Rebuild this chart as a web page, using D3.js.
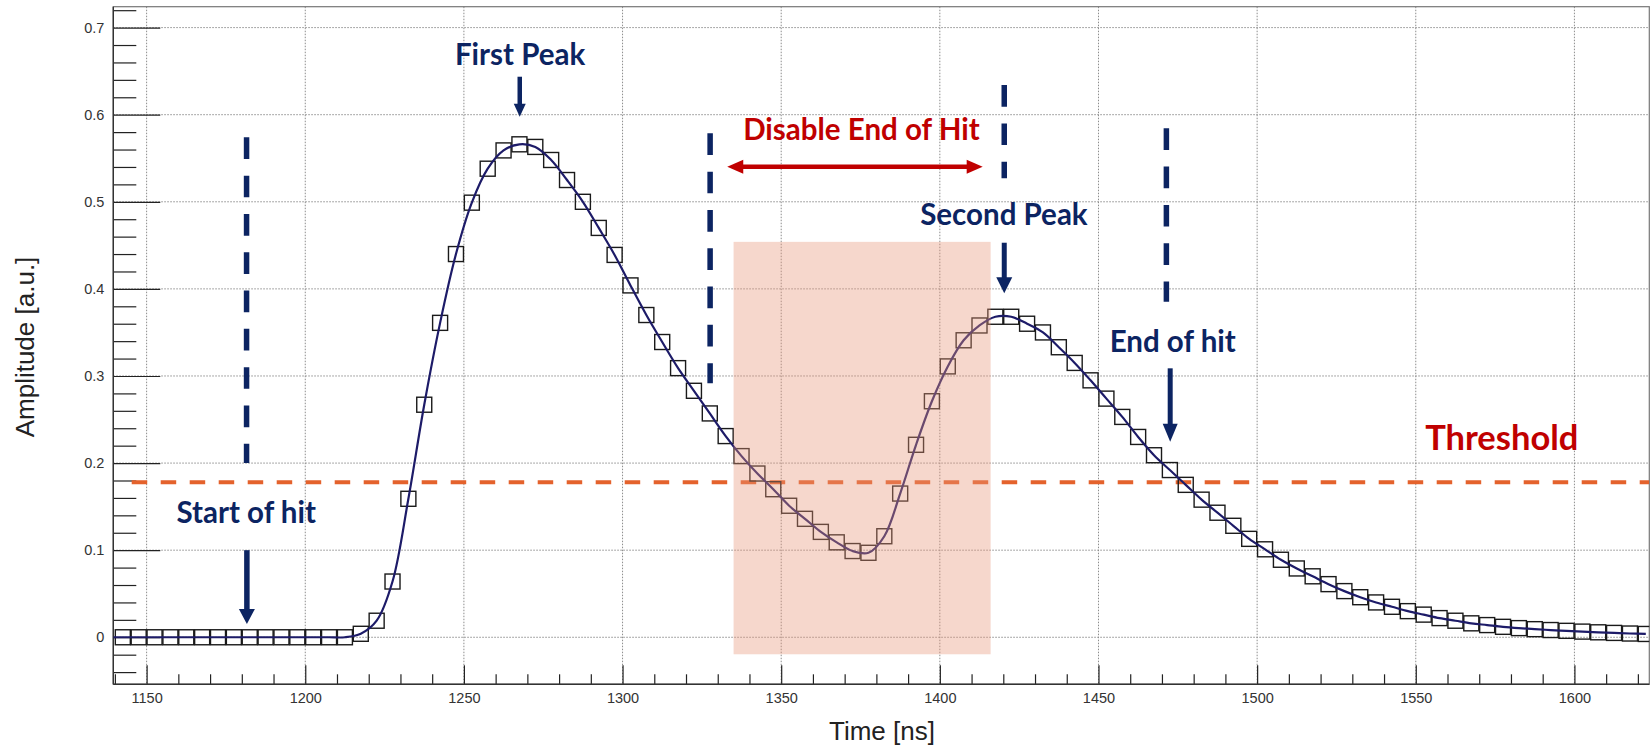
<!DOCTYPE html>
<html>
<head>
<meta charset="utf-8">
<script src="https://cdn.jsdelivr.net/npm/d3@7/dist/d3.min.js"></script>
<style>
  body { margin: 0; background: #fff; }
  svg text { font-family: "Liberation Sans", Arial, Helvetica, sans-serif; }
  .note { font-family: Lato, "Open Sans", sans-serif; font-weight: 700; }
</style>
</head>
<body>
<div id="chart"></div>
<script>
// sample times [ns]
const times = [
  1142.5, 1147.5, 1152.5, 1157.5, 1162.5, 1167.5, 1172.5, 1177.5, 1182.5, 1187.5,
  1192.5, 1197.5, 1202.5, 1207.5, 1212.5, 1217.5, 1222.5, 1227.5, 1232.5, 1237.5,
  1242.5, 1247.5, 1252.5, 1257.5, 1262.5, 1267.5, 1272.5, 1277.5, 1282.5, 1287.5,
  1292.5, 1297.5, 1302.5, 1307.5, 1312.5, 1317.5, 1322.5, 1327.5, 1332.5, 1337.5,
  1342.5, 1347.5, 1352.5, 1357.5, 1362.5, 1367.5, 1372.5, 1377.5, 1382.5, 1387.5,
  1392.5, 1397.5, 1402.5, 1407.5, 1412.5, 1417.5, 1422.5, 1427.5, 1432.5, 1437.5,
  1442.5, 1447.5, 1452.5, 1457.5, 1462.5, 1467.5, 1472.5, 1477.5, 1482.5, 1487.5,
  1492.5, 1497.5, 1502.5, 1507.5, 1512.5, 1517.5, 1522.5, 1527.5, 1532.5, 1537.5,
  1542.5, 1547.5, 1552.5, 1557.5, 1562.5, 1567.5, 1572.5, 1577.5, 1582.5, 1587.5,
  1592.5, 1597.5, 1602.5, 1607.5, 1612.5, 1617.5, 1622.5
];

// amplitude [a.u.] for each sample
const amplitudes = [
  0, 0, 0, 0, 0, 0, 0, 0, 0, 0,
  0, 0, 0, 0, 0, 0.004, 0.019, 0.064, 0.159, 0.267,
  0.361, 0.440, 0.499, 0.538, 0.559, 0.566, 0.563, 0.548, 0.525, 0.500,
  0.470, 0.439, 0.404, 0.370, 0.339, 0.309, 0.283, 0.257, 0.231, 0.208,
  0.188, 0.170, 0.151, 0.136, 0.121, 0.109, 0.099, 0.097, 0.116, 0.165,
  0.221, 0.271, 0.311, 0.341, 0.358, 0.368, 0.368, 0.360, 0.350, 0.333,
  0.315, 0.295, 0.274, 0.253, 0.230, 0.209, 0.192, 0.175, 0.158, 0.143,
  0.128, 0.113, 0.101, 0.089, 0.079, 0.070, 0.061, 0.053, 0.046, 0.040,
  0.035, 0.030, 0.026, 0.022, 0.019, 0.016, 0.014, 0.012, 0.0105, 0.0093,
  0.0083, 0.0074, 0.0065, 0.0057, 0.0050, 0.0043, 0.0038
];

const xTicks = [1150, 1200, 1250, 1300, 1350, 1400, 1450, 1500, 1550, 1600];
const xTickLabels = ["1150", "1200", "1250", "1300", "1350", "1400", "1450", "1500", "1550", "1600"];
const yTicks = [0, 0.1, 0.2, 0.3, 0.4, 0.5, 0.6, 0.7];
const yTickLabels = ["0", "0.1", "0.2", "0.3", "0.4", "0.5", "0.6", "0.7"];

const threshold = 0.178;

const svgWidth = 1650, svgHeight = 746;
const frame = {left: 113.3, right: 1649.3, top: 6.7, bottom: 684.3};

const navy = "#0c2462", red = "#c00000", orange = "#e4622c";

const svg = d3.select('#chart')
    .append('svg')
    .attr('width', svgWidth)
    .attr('height', svgHeight)
    .style('display', 'block');

svg.append('rect').attr('width', svgWidth).attr('height', svgHeight).attr('fill', '#fff');

const x = d3.scaleLinear().domain([1139.5, 1623.6]).range([frame.left, frame.right]);
const y = d3.scaleLinear().domain([-0.054, 0.724]).range([frame.bottom, frame.top]);

svg.append('defs').append('clipPath').attr('id', 'frameClip')
    .append('rect')
    .attr('x', frame.left).attr('y', frame.top)
    .attr('width', frame.right - frame.left)
    .attr('height', frame.bottom - frame.top);

// dotted grid
const grid = svg.append('g').attr('stroke', '#8c8c8c').attr('stroke-width', 1)
    .attr('stroke-dasharray', '1.5,1.5');
grid.selectAll('.gx').data(xTicks).enter().append('line')
    .attr('x1', d => x(d)).attr('x2', d => x(d))
    .attr('y1', frame.top).attr('y2', frame.bottom);
grid.selectAll('.gy').data(yTicks).enter().append('line')
    .attr('x1', frame.left).attr('x2', frame.right)
    .attr('y1', d => y(d)).attr('y2', d => y(d));

// frame
svg.append('rect')
    .attr('x', frame.left).attr('y', frame.top)
    .attr('width', frame.right - frame.left)
    .attr('height', frame.bottom - frame.top)
    .attr('fill', 'none').attr('stroke', '#777').attr('stroke-width', 1.2);

// axes
const xMinor = d3.range(1140, 1621, 10).filter(v => v % 50 !== 0);
const yMinor = d3.range(-4, 73, 2).map(v => v / 100).filter(v => Math.abs(v * 10 - Math.round(v * 10)) > 1e-6);

svg.append('g')
    .attr('transform', `translate(0, ${frame.bottom})`)
    .call(d3.axisBottom(x).tickValues(xTicks).tickSize(-19).tickPadding(8)
        .tickFormat((d, i) => xTickLabels[i]));
svg.append('g')
    .attr('transform', `translate(0, ${frame.bottom})`)
    .call(d3.axisBottom(x).tickValues(xMinor).tickSize(-10).tickFormat(''));

svg.append('g')
    .attr('transform', `translate(${frame.left}, 0)`)
    .call(d3.axisLeft(y).tickValues(yTicks).tickSize(-47).tickPadding(9)
        .tickFormat((d, i) => yTickLabels[i]));
svg.append('g')
    .attr('transform', `translate(${frame.left}, 0)`)
    .call(d3.axisLeft(y).tickValues(yMinor).tickSize(-23).tickFormat(''));

svg.selectAll('.domain').remove();
svg.selectAll('.tick line').attr('stroke', '#222').attr('stroke-width', 1.2);
svg.selectAll('.tick text').attr('fill', '#333').style('font-size', '14.5px');

svg.append('line')
    .attr('x1', frame.left).attr('x2', frame.right)
    .attr('y1', frame.bottom).attr('y2', frame.bottom)
    .attr('stroke', '#333').attr('stroke-width', 1.4);
svg.append('line')
    .attr('x1', frame.left).attr('x2', frame.left)
    .attr('y1', frame.top).attr('y2', frame.bottom)
    .attr('stroke', '#333').attr('stroke-width', 1.4);

// axis titles
svg.append('text')
    .attr('x', 882).attr('y', 740)
    .attr('text-anchor', 'middle')
    .style('font-size', '26px').attr('fill', '#222')
    .text('Time [ns]');
svg.append('text')
    .attr('transform', 'translate(33.5, 347) rotate(-90)')
    .attr('text-anchor', 'middle')
    .style('font-size', '26px').attr('fill', '#222')
    .text('Amplitude [a.u.]');

// threshold
const plot = svg.append('g').attr('clip-path', 'url(#frameClip)');
plot.append('line')
    .attr('x1', x(1145.3)).attr('x2', frame.right)
    .attr('y1', y(threshold)).attr('y2', y(threshold))
    .attr('stroke', orange).attr('stroke-width', 4.2)
    .attr('stroke-dasharray', '15.5,13.5');

// data
const data = times.map((t, i) => ({t: t, v: amplitudes[i]}));
const line = d3.line()
    .x(d => x(d.t))
    .y(d => y(d.v))
    .curve(d3.curveCatmullRom.alpha(0.5));

plot.selectAll('.pt').data(data).enter().append('rect')
    .attr('x', d => x(d.t) - 7.5)
    .attr('y', d => y(d.v) - 7.5)
    .attr('width', 15).attr('height', 15)
    .attr('fill', 'none').attr('stroke', '#1a1a1a').attr('stroke-width', 1.4);

plot.append('path')
    .datum([{t: x.domain()[0], v: amplitudes[0]}].concat(data))
    .attr('fill', 'none')
    .attr('stroke', '#1d1b68')
    .attr('stroke-width', 2.2)
    .attr('d', line);

// shaded region
plot.append('rect')
    .attr('x', x(1335)).attr('y', y(0.454))
    .attr('width', x(1416) - x(1335))
    .attr('height', y(-0.0195) - y(0.454))
    .attr('fill', '#e8967a').attr('opacity', 0.38);

// annotations
const notes = svg.append('g');

function dashedLine(t, a0, a1) {
    notes.append('line')
        .attr('x1', x(t)).attr('x2', x(t))
        .attr('y1', y(a0)).attr('y2', y(a1))
        .attr('stroke', navy).attr('stroke-width', 5.5)
        .attr('stroke-dasharray', '21.7,16.6');
}

function downArrow(t, a0, a1, shaft, headW, headL) {
    const px = x(t), y0 = y(a0), y1 = y(a1);
    notes.append('line')
        .attr('x1', px).attr('x2', px)
        .attr('y1', y0).attr('y2', y1 - headL + 1)
        .attr('stroke', navy).attr('stroke-width', shaft);
    notes.append('path')
        .attr('d', `M${px - headW / 2},${y1 - headL} L${px + headW / 2},${y1 - headL} L${px},${y1} Z`)
        .attr('fill', navy);
}

function label(txt, t, a, size, color) {
    notes.append('text')
        .attr('class', 'note')
        .attr('x', x(t)).attr('y', y(a))
        .attr('text-anchor', 'middle')
        .style('font-size', size + 'px')
        .attr('fill', color)
        .text(txt);
}

// start of hit
dashedLine(1181.5, 0.574, 0.20);
label('Start of hit', 1181.4, 0.131, 29.5, navy);
downArrow(1181.6, 0.100, 0.0153, 5.5, 16, 15);

// first peak
label('First Peak', 1267.7, 0.657, 29.5, navy);
downArrow(1267.6, 0.6436, 0.5977, 4.5, 12, 13);

// disable end of hit window
dashedLine(1327.6, 0.5786, 0.2916);
dashedLine(1420.3, 0.634, 0.527);
label('Disable End of Hit', 1375.3, 0.571, 29.5, red);
{
    const yy = y(0.5403), xa = x(1333), xb = x(1413.5), hl = 16, hw = 14;
    notes.append('line')
        .attr('x1', xa + hl - 1).attr('x2', xb - hl + 1)
        .attr('y1', yy).attr('y2', yy)
        .attr('stroke', red).attr('stroke-width', 4.5);
    notes.append('path')
        .attr('d', `M${xa},${yy} L${xa + hl},${yy - hw / 2} L${xa + hl},${yy + hw / 2} Z`)
        .attr('fill', red);
    notes.append('path')
        .attr('d', `M${xb},${yy} L${xb - hl},${yy - hw / 2} L${xb - hl},${yy + hw / 2} Z`)
        .attr('fill', red);
}

// second peak
label('Second Peak', 1420.2, 0.4734, 29.5, navy);
downArrow(1420.3, 0.453, 0.395, 5, 16, 16);

// end of hit
dashedLine(1471.4, 0.5844, 0.3853);
label('End of hit', 1473.4, 0.3279, 29.5, navy);
downArrow(1472.6, 0.3088, 0.2246, 5, 15, 18);

// threshold label
label('Threshold', 1577.1, 0.215, 34.5, red);
</script>
</body>
</html>
